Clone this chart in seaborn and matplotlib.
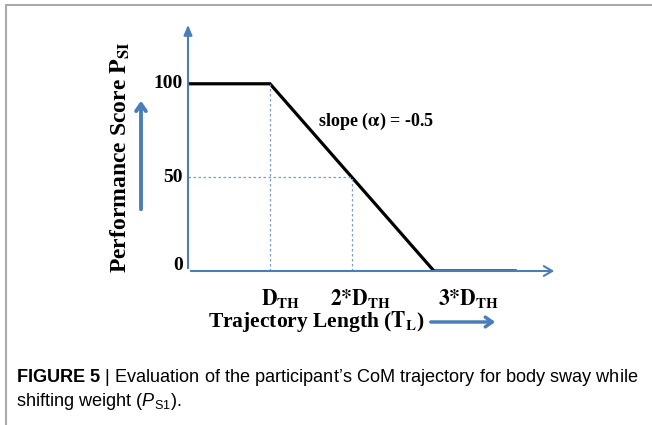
import matplotlib
matplotlib.use("Agg")
import matplotlib.pyplot as plt
import seaborn as sns
import pandas as pd
from matplotlib.lines import Line2D

# trajectory length in units of D_TH, performance score
traj_len = [0, 1, 3, 4]
score = [100, 100, 0, 0]

y_ticks = [0, 50, 100]
x_ticks = [1, 2, 3]
x_tick_labels = [r"$\mathbf{D}_{\mathbf{TH}}$", r"$\mathbf{2{*}D}_{\mathbf{TH}}$", r"$\mathbf{3{*}D}_{\mathbf{TH}}$"]

# dashed guide lines (x, y pairs)
guide_x = [1, 2]
guide_y = [100, 50]

sns.set_style("white")
plt.rcParams["text.color"] = "black"
plt.rcParams["mathtext.fontset"] = "custom"
plt.rcParams["mathtext.rm"] = "Liberation Sans"
plt.rcParams["mathtext.it"] = "Liberation Sans:italic"
plt.rcParams["mathtext.bf"] = "Liberation Sans:bold"

blue = "#4a7ebb"
serif = "Liberation Serif"

fig = plt.figure(figsize=(6.52, 4.25), dpi=100)
ax = fig.add_axes([188 / 652, 154 / 425, 369 / 652, 249 / 425])

df = pd.DataFrame({"traj": traj_len, "score": score})
sns.lineplot(data=df, x="traj", y="score", color="black", lw=2.3, ax=ax,
             solid_joinstyle="miter")

ax.set_xlim(0, 4.5)
ax.set_ylim(0, 133)
for s in ax.spines.values():
    s.set_visible(False)
ax.set_xticks([])
ax.set_yticks([])
ax.set_xlabel("")
ax.set_ylabel("")

# guides
for gx, gy in zip(guide_x, guide_y):
    ax.plot([gx, gx], [0, gy], color="#7f9dc6", lw=0.9, ls=(0, (2, 2)))
ax.plot([0, guide_x[1]], [guide_y[1], guide_y[1]], color="#7f9dc6", lw=0.9, ls=(0, (2, 2)))

# axes with arrows
ax.annotate("", xy=(4.5, 0), xytext=(0, 0),
            arrowprops=dict(arrowstyle="->,head_length=0.6,head_width=0.35", color=blue, lw=1.5),
            annotation_clip=False)
ax.annotate("", xy=(0, 133), xytext=(0, 0),
            arrowprops=dict(arrowstyle="-|>,head_length=0.6,head_width=0.25", color=blue, lw=1.5),
            annotation_clip=False)

# tick labels
for v in y_ticks:
    ax.annotate(str(v), xy=(0, v), xytext=(-5, 5 if v == 0 else 0), textcoords="offset pixels",
                ha="right", va="center", fontsize=14, family=serif, weight="bold")
x_offsets = [11, 8, 34]
for v, lab, off in zip(x_ticks, x_tick_labels, x_offsets):
    ax.annotate(lab, xy=(v, 0), xytext=(off, -27), textcoords="offset pixels",
                ha="center", va="center", fontsize=15.5, math_fontfamily="stix")

ax.text(1.585, 80, r"slope ($\mathbf{\alpha}$) = -0.5", fontsize=13, family=serif,
        weight="bold", math_fontfamily="stix", va="center", ha="left")

# axis titles
fig.text(120 / 652, 1 - 157 / 425, r"Performance Score $\mathbf{P}_{\mathbf{SI}}$",
         rotation=90, ha="center", va="center", fontsize=17, family=serif,
         weight="bold", math_fontfamily="stix")
fig.text(316 / 652, 1 - 321 / 425, r"Trajectory Length ($\mathbf{T}_{\mathbf{L}}$)",
         ha="center", va="center", fontsize=15.5, family=serif,
         weight="bold", math_fontfamily="stix")

fig.add_artist(plt.Annotation("", xy=(141 / 652, 1 - 98 / 425), xytext=(141 / 652, 1 - 212 / 425),
                              xycoords="figure fraction",
                              arrowprops=dict(arrowstyle="->,head_length=0.5,head_width=0.35",
                                              color=blue, lw=2.8)))
fig.add_artist(plt.Annotation("", xy=(498 / 652, 1 - 322 / 425), xytext=(428 / 652, 1 - 322 / 425),
                              xycoords="figure fraction",
                              arrowprops=dict(arrowstyle="->,head_length=0.5,head_width=0.35",
                                              color=blue, lw=2.5)))

# frame of the figure panel
fig.add_artist(Line2D([6 / 652, 1], [1 - 5 / 425, 1 - 5 / 425], color="#aaaaaa", lw=1.5))
fig.add_artist(Line2D([6 / 652, 6 / 652], [0, 1 - 5 / 425], color="#aaaaaa", lw=1.5))

# caption
fig.text(16 / 652, 1 - 377 / 425,
         r"$\mathbf{FIGURE\ 5}$ | Evaluation of the participant’s CoM trajectory for body sway while",
         fontsize=13.05, family="Liberation Sans", va="center", ha="left")
fig.text(16 / 652, 1 - 402 / 425, r"shifting weight ($\mathit{P}_{\mathrm{S1}}$).",
         fontsize=13.05, family="Liberation Sans", va="center", ha="left")

fig.savefig("out.png", dpi=100)
